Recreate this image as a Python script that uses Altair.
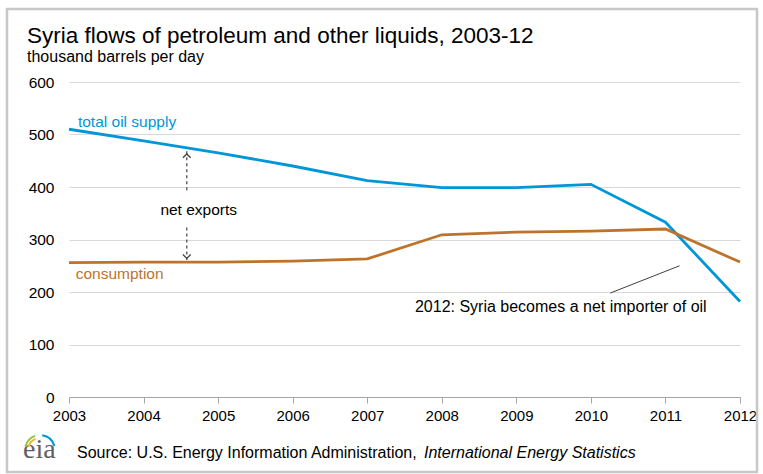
import altair as alt
import pandas as pd

# Syria petroleum flows, thousand barrels per day
years = [2003, 2004, 2005, 2006, 2007, 2008, 2009, 2010, 2011, 2012]
total_supply = [510, 488, 465, 440, 412, 399, 399, 405, 333, 182]
consumption = [256, 257, 257, 259, 263, 309, 314, 316, 320, 257]

y_ticks = [0, 100, 200, 300, 400, 500, 600]

BLUE = "#0096d7"
ORANGE = "#bd732a"
FONT = "Liberation Sans"

W, H = 671, 315
PAD = {"left": 69, "top": 82, "right": 23, "bottom": 77}

lines_df = pd.DataFrame(
    {
        "year": years * 2,
        "value": total_supply + consumption,
        "series": ["total oil supply"] * len(years) + ["consumption"] * len(years),
    }
)

x_scale = alt.Scale(domain=[2003, 2012], nice=False, zero=False)
y_scale = alt.Scale(domain=[0, 600], nice=False)
color_scale = alt.Scale(domain=["total oil supply", "consumption"], range=[BLUE, ORANGE])

x_enc = alt.X(
    "year:Q",
    scale=x_scale,
    axis=alt.Axis(
        values=years,
        format="d",
        title=None,
        grid=False,
        domainColor="#a6a6a6",
        tickColor="#a6a6a6",
        tickSize=6,
        labelFlush=False,
        labelFont=FONT,
        labelFontSize=15,
        labelColor="#000000",
        labelPadding=5,
    ),
)
y_enc = alt.Y(
    "value:Q",
    scale=y_scale,
    axis=alt.Axis(
        values=y_ticks,
        title=None,
        domain=False,
        ticks=False,
        gridColor="#d9d9d9",
        gridWidth=1,
        labelFont=FONT,
        labelFontSize=15.5,
        labelColor="#000000",
        labelPadding=15,
    ),
)

lines = (
    alt.Chart(lines_df)
    .mark_line(strokeWidth=2.8)
    .encode(x=x_enc, y=y_enc, color=alt.Color("series:N", scale=color_scale, legend=None))
)

# Series labels
label_df = pd.DataFrame(
    {
        "year": [2003.12, 2003.09],
        "value": [524, 234],
        "series": ["total oil supply", "consumption"],
    }
)
series_labels = (
    alt.Chart(label_df)
    .mark_text(align="left", baseline="middle", font=FONT, fontSize=15.5)
    .encode(
        x=alt.X("year:Q", scale=x_scale),
        y=alt.Y("value:Q", scale=y_scale),
        text="series:N",
        color=alt.Color("series:N", scale=color_scale, legend=None),
    )
)

# Net exports: dashed double arrow between the two lines
arrow_year = 2004.58
seg_df = pd.DataFrame({"year": [arrow_year, arrow_year], "v1": [468, 323], "v2": [389, 261]})
arrow_segs = (
    alt.Chart(seg_df)
    .mark_rule(color="#404040", strokeDash=[3, 3], strokeWidth=1.2)
    .encode(x=alt.X("year:Q", scale=x_scale), y=alt.Y("v1:Q", scale=y_scale), y2="v2:Q")
)
arrow_up = (
    alt.Chart(pd.DataFrame({"year": [arrow_year], "value": [463]}))
    .mark_point(shape="M -1 1 L 0 0 L 1 1", filled=False, color="#404040", size=60, strokeWidth=1.3, opacity=1)
    .encode(x=alt.X("year:Q", scale=x_scale), y=alt.Y("value:Q", scale=y_scale))
)
arrow_down = (
    alt.Chart(pd.DataFrame({"year": [arrow_year], "value": [264]}))
    .mark_point(shape="M -1 -1 L 0 0 L 1 -1", filled=False, color="#404040", size=60, strokeWidth=1.3, opacity=1)
    .encode(x=alt.X("year:Q", scale=x_scale), y=alt.Y("value:Q", scale=y_scale))
)

net_exports = (
    alt.Chart(pd.DataFrame({"year": [2004.74], "value": [356], "text": ["net exports"]}))
    .mark_text(align="center", baseline="middle", font=FONT, fontSize=15.5, color="#000000")
    .encode(x=alt.X("year:Q", scale=x_scale), y=alt.Y("value:Q", scale=y_scale), text="text:N")
)
importer_note = (
    alt.Chart(pd.DataFrame({"year": [2007.64], "value": [172], "text": ["2012: Syria becomes a net importer of oil"]}))
    .mark_text(align="left", baseline="middle", font=FONT, fontSize=16, color="#000000")
    .encode(x=alt.X("year:Q", scale=x_scale), y=alt.Y("value:Q", scale=y_scale), text="text:N")
)

leader = (
    alt.Chart(pd.DataFrame({"year": [2010.26], "value": [198], "year2": [2011.19], "value2": [250]}))
    .mark_rule(color="#404040", strokeWidth=1)
    .encode(
        x=alt.X("year:Q", scale=x_scale),
        y=alt.Y("value:Q", scale=y_scale),
        x2="year2:Q",
        y2="value2:Q",
    )
)

# Titles, footer and frame, positioned in pixels relative to the plot area
def pixel_text(text, x, y, size, **kw):
    return (
        alt.Chart(pd.DataFrame({"t": [text]}))
        .mark_text(align="left", baseline="alphabetic", fontSize=size, **kw)
        .encode(x=alt.value(x), y=alt.value(y), text="t:N")
    )

title = pixel_text("Syria flows of petroleum and other liquids, 2003-12", -42, -39, 22.5, font=FONT, color="#000000")
subtitle = pixel_text("thousand barrels per day", -42, -20, 16, font=FONT, color="#000000")
source_a = pixel_text("Source: U.S. Energy Information Administration,", 8, 376, 16, font=FONT, color="#000000")
source_b = pixel_text("International Energy Statistics", 355, 376, 16, font=FONT, fontStyle="italic", color="#000000")
logo_text = pixel_text("eia", -46, 376, 28, font="Liberation Serif", color="#5f6062")

def logo_arc(r0, r1, t0, t1, color):
    return (
        alt.Chart(pd.DataFrame({"s": [1]}))
        .mark_arc(innerRadius=r0, outerRadius=r1, theta=t0, theta2=t1, color=color)
        .encode(x=alt.value(-29), y=alt.value(368))
    )

logo_green = logo_arc(14, 16, 4.95, 5.95, "#8dc63f")
logo_yellow = logo_arc(11, 13, 5.0, 5.9, "#f2b531")
logo_blue = logo_arc(14, 16, 0.15, 1.3, "#0096d7")

frame = (
    alt.Chart(pd.DataFrame({"s": [1]}))
    .mark_rect(fill=None, stroke="#c8c8c8", strokeWidth=2.5)
    .encode(x=alt.value(-62), x2=alt.value(W + 17), y=alt.value(-73), y2=alt.value(H + 75))
)

chart = (
    alt.layer(
        lines,
        series_labels,
        arrow_segs,
        arrow_up,
        arrow_down,
        net_exports,
        importer_note,
        leader,
        title,
        subtitle,
        source_a,
        source_b,
        logo_text,
        logo_green,
        logo_yellow,
        logo_blue,
        frame,
    )
    .properties(width=W, height=H, padding=PAD, autosize=alt.AutoSizeParams(type="none"), background="white")
    .configure_view(stroke=None)
)

chart.save("out.html", embed_options={"renderer": "svg", "actions": False})
